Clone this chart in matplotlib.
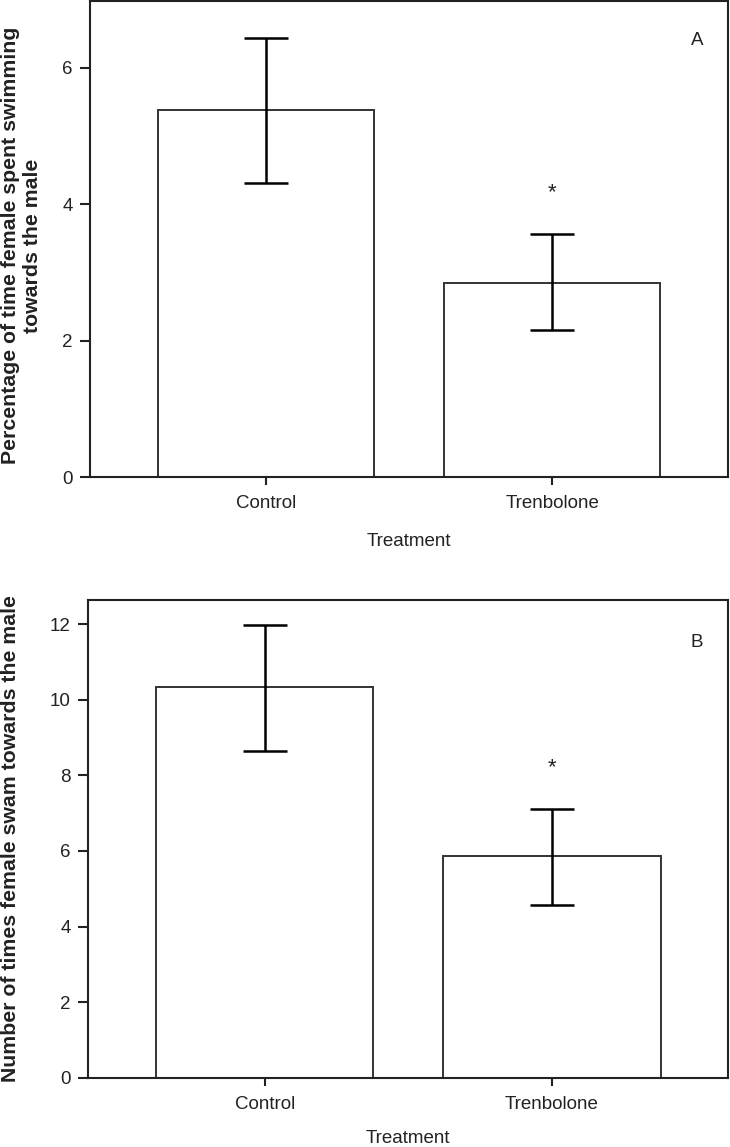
import matplotlib
matplotlib.use("Agg")
import matplotlib.pyplot as plt

plt.rcParams['font.family'] = ['Liberation Sans', 'DejaVu Sans']

categories = ["Control", "Trenbolone"]

# Panel A
pct_means = [5.38, 2.84]
pct_err_low = [1.07, 0.69]
pct_err_high = [1.06, 0.72]
pct_star_y = 4.17

# Panel B
num_means = [10.33, 5.86]
num_err_low = [1.69, 1.30]
num_err_high = [1.66, 1.24]
num_star_y = 8.19

W, H = 730, 1147
fig = plt.figure(figsize=(W / 100, H / 100), dpi=100)

line_col = '#222222'

def make_panel(rect, means, elow, ehigh, star_y, ylim, yticks, ylabel, letter, letter_y, xlabelpad):
    ax = fig.add_axes(rect)
    x = range(len(categories))
    ax.bar(x, means, width=0.756, color='white', edgecolor='#333333', linewidth=1.4, zorder=2)
    ax.errorbar(x, means, yerr=[elow, ehigh], fmt='none', ecolor='black',
                elinewidth=1.8, capsize=15.5, capthick=1.8, zorder=3)
    ax.text(1, star_y, '*', ha='center', va='center', fontsize=16, color='#222222')
    ax.text(1.505, letter_y, letter, ha='center', va='center', fontsize=13.5, color='#222222')
    ax.set_xlim(-0.614, 1.614)
    ax.set_ylim(*ylim)
    ax.set_yticks(yticks)
    ax.set_xticks(list(x))
    ax.set_xticklabels(categories)
    for s in ax.spines.values():
        s.set_linewidth(1.5)
        s.set_color(line_col)
    ax.tick_params(axis='both', direction='out', length=6, width=1.5, colors=line_col,
                   labelsize=13.5, labelcolor='#222222')
    ax.tick_params(axis='y', length=7.5, pad=5)
    ax.tick_params(axis='x', pad=7)
    ax.set_xlabel('Treatment', fontsize=13.5, color='#222222', labelpad=xlabelpad)
    ax.set_ylabel(ylabel, fontsize=15.3, fontweight='bold', color='#222222', linespacing=1.2)
    return ax

axA = make_panel([90 / W, 1 - 477 / H, 638 / W, 476 / H], pct_means, pct_err_low, pct_err_high,
                 pct_star_y, (0, 6.98), [0, 2, 4, 6],
                 'Percentage of time female spent swimming\ntowards the male', 'A', 6.4, 15)
axA.yaxis.set_label_coords(-0.075, 0.486)

axB = make_panel([88.3 / W, 1 - 1077.7 / H, 640 / W, 477.7 / H], num_means, num_err_low, num_err_high,
                 num_star_y, (0, 12.64), [0, 2, 4, 6, 8, 10, 12],
                 'Number of times female swam towards the male', 'B', 11.52, 12.5)
axB.yaxis.set_label_coords(-0.107, 0.5)

fig.savefig('out.png', dpi=100)
